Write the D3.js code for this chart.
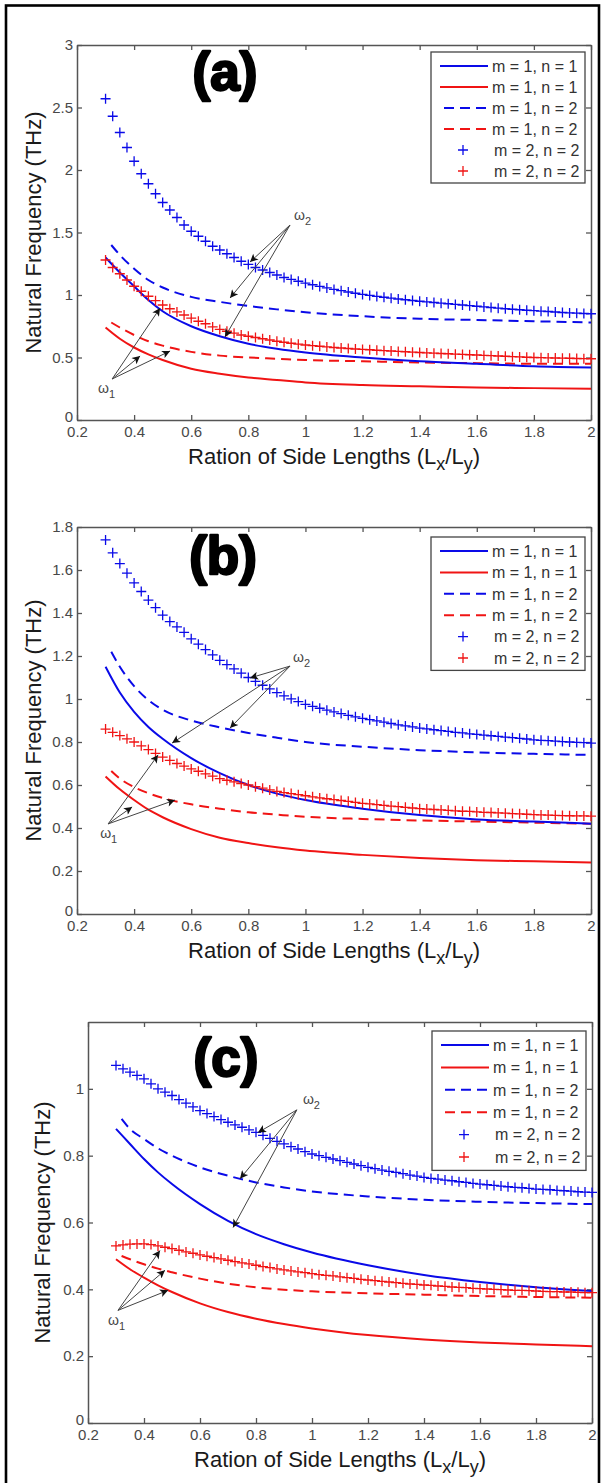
<!DOCTYPE html>
<html>
<head>
<meta charset="utf-8">
<script src="https://d3js.org/d3.v7.min.js"></script>
<style>
body { margin: 0; background: #fff; }
svg { display: block; }
</style>
</head>
<body>
<script>
var xTicks = [0.2, 0.4, 0.6, 0.8, 1, 1.2, 1.4, 1.6, 1.8, 2];
var yTicksA = [0, 0.5, 1, 1.5, 2, 2.5, 3];
var yTicksB = [0, 0.2, 0.4, 0.6, 0.8, 1, 1.2, 1.4, 1.6, 1.8];
var yTicksC = [0, 0.2, 0.4, 0.6, 0.8, 1];
var legendLabels = ["m = 1, n = 1", "m = 1, n = 1", "m = 1, n = 2", "m = 1, n = 2", "m = 2, n = 2", "m = 2, n = 2"];

var lineRatio = [0.3, 0.35, 0.4, 0.45, 0.5, 0.6, 0.7, 0.8, 0.9, 1, 1.2, 1.4, 1.6, 1.8, 2];
var dashRatio = [0.32, 0.35, 0.4, 0.45, 0.5, 0.6, 0.7, 0.8, 0.9, 1, 1.2, 1.4, 1.6, 1.8, 2];
var plusRatio = [0.3, 0.325, 0.35, 0.375, 0.4, 0.425, 0.45, 0.475, 0.5, 0.525, 0.55, 0.575, 0.6, 0.625, 0.65, 0.675, 0.7, 0.725, 0.75, 0.775, 0.8, 0.825, 0.85, 0.875, 0.9, 0.925, 0.95, 0.975, 1,
	1.025, 1.05, 1.075, 1.1, 1.125, 1.15, 1.175, 1.2, 1.225, 1.25, 1.275, 1.3, 1.325, 1.35, 1.375, 1.4, 1.425, 1.45, 1.475, 1.5, 1.525, 1.55, 1.575, 1.6, 1.625, 1.65, 1.675, 1.7, 1.725, 1.75, 1.775, 1.8, 1.825, 1.85, 1.875, 1.9, 1.925, 1.95, 1.975, 2];

// (a)
var solidBlueA = [1.30, 1.18, 1.07, 0.96, 0.87, 0.75, 0.67, 0.61, 0.57, 0.54, 0.50, 0.47, 0.45, 0.43, 0.42];
var solidRedA = [0.74, 0.65, 0.58, 0.525, 0.48, 0.41, 0.37, 0.34, 0.32, 0.30, 0.28, 0.27, 0.26, 0.255, 0.25];
var dashBlueA = [1.40, 1.32, 1.21, 1.12, 1.06, 0.985, 0.945, 0.912, 0.885, 0.862, 0.83, 0.81, 0.80, 0.79, 0.78];
var dashRedA = [0.78, 0.74, 0.68, 0.63, 0.595, 0.545, 0.515, 0.50, 0.49, 0.48, 0.47, 0.46, 0.455, 0.45, 0.45];
var plusBlueA = [2.57, 2.43, 2.30, 2.18, 2.07, 1.97, 1.89, 1.81, 1.74, 1.68, 1.62, 1.56, 1.51, 1.47, 1.43, 1.39, 1.36, 1.33, 1.30, 1.27, 1.245, 1.22, 1.20, 1.18, 1.16, 1.14, 1.125, 1.11, 1.095,
	1.082, 1.069, 1.057, 1.045, 1.035, 1.024, 1.014, 1.005, 0.997, 0.989, 0.982, 0.975, 0.968, 0.962, 0.956, 0.95, 0.945, 0.94, 0.935, 0.93,
	0.925, 0.92, 0.915, 0.91, 0.905, 0.90, 0.895, 0.89, 0.886, 0.882, 0.878, 0.875, 0.871, 0.868, 0.864, 0.86, 0.857, 0.855, 0.852, 0.85];
var plusRedA = [1.28, 1.22, 1.17, 1.12, 1.07, 1.03, 0.99, 0.955, 0.92, 0.89, 0.865, 0.84, 0.815, 0.79, 0.77, 0.745, 0.725, 0.71, 0.695, 0.68, 0.67, 0.66, 0.65, 0.64, 0.63, 0.622, 0.614, 0.607, 0.60,
	0.595, 0.59, 0.585, 0.58, 0.576, 0.572, 0.568, 0.565, 0.562, 0.558, 0.555, 0.552, 0.549, 0.546, 0.543, 0.54, 0.537, 0.535, 0.532, 0.53,
	0.527, 0.525, 0.522, 0.52, 0.517, 0.515, 0.512, 0.51, 0.507, 0.505, 0.502, 0.50, 0.499, 0.497, 0.496, 0.495, 0.494, 0.492, 0.491, 0.49];

// (b)
var solidBlueB = [1.15, 1.03, 0.94, 0.87, 0.815, 0.725, 0.655, 0.60, 0.56, 0.53, 0.49, 0.46, 0.44, 0.43, 0.42];
var solidRedB = [0.64, 0.58, 0.53, 0.485, 0.45, 0.395, 0.355, 0.33, 0.31, 0.295, 0.275, 0.26, 0.25, 0.245, 0.24];
var dashBlueB = [1.22, 1.15, 1.06, 0.995, 0.95, 0.90, 0.868, 0.842, 0.82, 0.80, 0.778, 0.762, 0.752, 0.745, 0.74];
var dashRedB = [0.665, 0.63, 0.59, 0.562, 0.54, 0.51, 0.49, 0.473, 0.462, 0.452, 0.442, 0.435, 0.43, 0.425, 0.42];
var plusBlueB = [1.74, 1.68, 1.63, 1.585, 1.54, 1.50, 1.46, 1.425, 1.39, 1.36, 1.335, 1.31, 1.28, 1.255, 1.23, 1.205, 1.18, 1.16, 1.14, 1.12, 1.10, 1.082, 1.064, 1.047, 1.03, 1.015, 1.001, 0.988, 0.975,
	0.966, 0.957, 0.948, 0.94, 0.932, 0.924, 0.917, 0.91, 0.904, 0.898, 0.892, 0.886, 0.88, 0.875, 0.87, 0.865, 0.861, 0.857, 0.853, 0.849,
	0.845, 0.842, 0.838, 0.835, 0.832, 0.829, 0.826, 0.823, 0.82, 0.817, 0.814, 0.81, 0.808, 0.806, 0.804, 0.802, 0.80, 0.798, 0.797, 0.795];
var plusRedB = [0.86, 0.845, 0.83, 0.815, 0.80, 0.782, 0.765, 0.747, 0.73, 0.715, 0.70, 0.688, 0.675, 0.664, 0.652, 0.641, 0.63, 0.622, 0.615, 0.607, 0.60, 0.592, 0.585, 0.577, 0.57, 0.565, 0.56, 0.555, 0.55,
	0.545, 0.54, 0.536, 0.532, 0.528, 0.524, 0.519, 0.515, 0.512, 0.509, 0.505, 0.502, 0.499, 0.496, 0.493, 0.49, 0.488, 0.486, 0.484, 0.482,
	0.48, 0.478, 0.477, 0.475, 0.473, 0.472, 0.47, 0.469, 0.467, 0.466, 0.464, 0.462, 0.461, 0.46, 0.459, 0.458, 0.457, 0.456, 0.456, 0.455];

// (c)
var solidBlueC = [0.88, 0.835, 0.79, 0.75, 0.715, 0.655, 0.605, 0.565, 0.535, 0.51, 0.472, 0.443, 0.422, 0.406, 0.395];
var solidRedC = [0.49, 0.46, 0.435, 0.412, 0.392, 0.358, 0.332, 0.312, 0.296, 0.283, 0.263, 0.25, 0.241, 0.235, 0.23];
var dashBlueC = [0.91, 0.88, 0.85, 0.822, 0.80, 0.765, 0.74, 0.72, 0.705, 0.693, 0.678, 0.668, 0.662, 0.658, 0.655];
var dashRedC = [0.50, 0.49, 0.475, 0.462, 0.451, 0.432, 0.417, 0.406, 0.399, 0.394, 0.388, 0.384, 0.38, 0.377, 0.375];
var plusBlueC = [1.07, 1.06, 1.05, 1.04, 1.03, 1.015, 1.00, 0.99, 0.98, 0.968, 0.957, 0.946, 0.935, 0.926, 0.917, 0.908, 0.90, 0.892, 0.885, 0.877, 0.87, 0.861, 0.852, 0.843, 0.835, 0.827, 0.82, 0.812, 0.805,
	0.80, 0.795, 0.79, 0.785, 0.78, 0.775, 0.77, 0.765, 0.761, 0.757, 0.753, 0.75, 0.746, 0.742, 0.739, 0.735, 0.732, 0.73, 0.727, 0.725,
	0.722, 0.72, 0.717, 0.715, 0.713, 0.711, 0.709, 0.707, 0.705, 0.704, 0.702, 0.70, 0.699, 0.698, 0.696, 0.695, 0.694, 0.692, 0.691, 0.69];
var plusRedC = [0.53, 0.533, 0.535, 0.536, 0.536, 0.534, 0.53, 0.526, 0.522, 0.517, 0.512, 0.508, 0.503, 0.499, 0.495, 0.491, 0.487, 0.483, 0.479, 0.476, 0.472, 0.468, 0.465, 0.461, 0.458, 0.455, 0.452, 0.45, 0.447,
	0.444, 0.442, 0.44, 0.437, 0.435, 0.433, 0.43, 0.428, 0.426, 0.424, 0.422, 0.42, 0.418, 0.416, 0.415, 0.413, 0.412, 0.41, 0.409, 0.407,
	0.406, 0.405, 0.403, 0.402, 0.401, 0.40, 0.399, 0.398, 0.397, 0.397, 0.396, 0.395, 0.394, 0.393, 0.393, 0.392, 0.392, 0.391, 0.39, 0.39];

// annotation arrows: [origin, tips...] in data units
var omega2A = [[0.946, 1.56], [0.806, 1.264], [0.736, 0.976], [0.718, 0.664]];
var omega1A = [[0.323, 0.328], [0.491, 0.896], [0.421, 0.512], [0.526, 0.552]];
var omega2B = [[0.946, 1.153], [0.806, 1.098], [0.736, 0.865], [0.533, 0.795]];
var omega1B = [[0.309, 0.419], [0.484, 0.740], [0.393, 0.498], [0.543, 0.530]];
var omega2C = [[0.946, 0.937], [0.807, 0.869], [0.743, 0.731], [0.718, 0.585]];
var omega1C = [[0.307, 0.337], [0.457, 0.516], [0.475, 0.457], [0.486, 0.397]];

var BLUE = "#0a0ae8", RED = "#f01414";
var AXIS = "#555", TICKTEXT = "#484848";
var FONT = "'Liberation Sans', Arial, sans-serif";

var svg = d3.select("body").append("svg")
	.attr("width", 601)
	.attr("height", 1483);

svg.append("defs").append("marker")
	.attr("id", "head")
	.attr("viewBox", "0 0 10 10")
	.attr("refX", 10)
	.attr("refY", 5)
	.attr("markerWidth", 10)
	.attr("markerHeight", 8)
	.attr("markerUnits", "userSpaceOnUse")
	.attr("orient", "auto")
	.append("path")
	.attr("d", "M0,0L10,5L0,10L2.5,5z")
	.attr("fill", "#111");

svg.append("rect")
	.attr("x", 6).attr("y", 5.5)
	.attr("width", 593).attr("height", 1495)
	.attr("fill", "none")
	.attr("stroke", "#000")
	.attr("stroke-width", 2.6);

var panels = [{
	name: "(a)", left: 77, right: 591, top: 45, bottom: 420, yMax: 3, yTicks: yTicksA,
	solidBlue: solidBlueA, solidRed: solidRedA, dashBlue: dashBlueA, dashRed: dashRedA, plusBlue: plusBlueA, plusRed: plusRedA,
	omega2: omega2A, omega1: omega1A, labelX: 225, labelY: 90,
	w2dx: 4, w2dy: -5, w1dx: -14, w1dy: 14, legTop: 7, legRow: 21, titleX: 33
}, {
	name: "(b)", left: 77, right: 591, top: 527, bottom: 914, yMax: 1.8, yTicks: yTicksB,
	solidBlue: solidBlueB, solidRed: solidRedB, dashBlue: dashBlueB, dashRed: dashRedB, plusBlue: plusBlueB, plusRed: plusRedB,
	omega2: omega2B, omega1: omega1B, labelX: 223, labelY: 574,
	w2dx: 3, w2dy: -4, w1dx: -8, w1dy: 14, legTop: 10, legRow: 21.4, titleX: 33
}, {
	name: "(c)", left: 88, right: 592, top: 1022, bottom: 1423, yMax: 1.2, yTicks: yTicksC,
	solidBlue: solidBlueC, solidRed: solidRedC, dashBlue: dashBlueC, dashRed: dashRedC, plusBlue: plusBlueC, plusRed: plusRedC,
	omega2: omega2C, omega1: omega1C, labelX: 226, labelY: 1076,
	w2dx: 6, w2dy: -6, w1dx: -10, w1dy: 15, legTop: 9, legRow: 22.4, titleX: 42
}];

panels.forEach(function(p) {
	drawPanel(p);
});

function drawPanel(p) {
	var x = d3.scaleLinear().domain([0.2, 2]).range([p.left, p.right]);
	var y = d3.scaleLinear().domain([0, p.yMax]).range([p.bottom, p.top]);
	var g = svg.append("g");

	var bottomAxis = g.append("g")
		.attr("transform", "translate(0," + p.bottom + ")")
		.call(d3.axisBottom(x).tickValues(xTicks).tickSizeInner(-5).tickSizeOuter(0).tickPadding(6).tickFormat(d3.format("")));
	var topAxis = g.append("g")
		.attr("transform", "translate(0," + p.top + ")")
		.call(d3.axisTop(x).tickValues(xTicks).tickSizeInner(-5).tickSizeOuter(0).tickFormat(""));
	var leftAxis = g.append("g")
		.attr("transform", "translate(" + p.left + ",0)")
		.call(d3.axisLeft(y).tickValues(p.yTicks).tickSizeInner(-5).tickSizeOuter(0).tickPadding(4).tickFormat(d3.format("")));
	var rightAxis = g.append("g")
		.attr("transform", "translate(" + p.right + ",0)")
		.call(d3.axisRight(y).tickValues(p.yTicks).tickSizeInner(-5).tickSizeOuter(0).tickFormat(""));

	[bottomAxis, topAxis, leftAxis, rightAxis].forEach(function(a) {
		a.select(".domain").attr("stroke", AXIS).attr("stroke-width", 1.5);
		a.selectAll(".tick line").attr("stroke", AXIS).attr("stroke-width", 1.3);
		a.selectAll(".tick text")
			.attr("fill", TICKTEXT)
			.style("font-family", FONT)
			.style("font-size", "15px");
	});
	// the zero label sits just above the first x label, as in the original
	leftAxis.selectAll(".tick text")
		.filter(function(d) { return d === 0; })
		.attr("dy", "0.1em");

	var line = d3.line()
		.x(function(d) { return x(d[0]); })
		.y(function(d) { return y(d[1]); })
		.curve(d3.curveMonotoneX);

	var series = [
		{ ratio: dashRatio, values: p.dashBlue, color: BLUE, dash: "10,6" },
		{ ratio: dashRatio, values: p.dashRed, color: RED, dash: "10,6" },
		{ ratio: lineRatio, values: p.solidRed, color: RED, dash: null },
		{ ratio: lineRatio, values: p.solidBlue, color: BLUE, dash: null }
	];
	series.forEach(function(s) {
		g.append("path")
			.datum(d3.zip(s.ratio, s.values))
			.attr("d", line)
			.attr("fill", "none")
			.attr("stroke", s.color)
			.attr("stroke-width", 2)
			.attr("stroke-dasharray", s.dash);
	});

	[{ values: p.plusBlue, color: BLUE }, { values: p.plusRed, color: RED }].forEach(function(s) {
		g.append("g").selectAll("path")
			.data(d3.zip(plusRatio, s.values))
			.enter()
			.append("path")
			.attr("d", "M-5,0H5M0,-5V5")
			.attr("transform", function(d) {
				return "translate(" + x(d[0]) + "," + y(d[1]) + ")";
			})
			.attr("fill", "none")
			.attr("stroke", s.color)
			.attr("stroke-width", 1.3);
	});

	drawArrows(g, x, y, p.omega2, "2", p.w2dx, p.w2dy);
	drawArrows(g, x, y, p.omega1, "1", p.w1dx, p.w1dy);

	drawLegend(g, p);

	g.append("text")
		.attr("x", p.labelX)
		.attr("y", p.labelY)
		.attr("text-anchor", "middle")
		.attr("fill", "#000")
		.attr("stroke", "#000")
		.attr("stroke-width", 2.4)
		.attr("stroke-linejoin", "round")
		.style("font-family", FONT)
		.style("font-weight", "bold")
		.style("font-size", "53px")
		.text(p.name);

	var xt = g.append("text")
		.attr("x", (p.left + p.right) / 2)
		.attr("y", p.bottom + 44)
		.attr("text-anchor", "middle")
		.attr("fill", "#1a1a1a")
		.style("font-family", FONT)
		.style("font-size", "22px");
	xt.append("tspan").text("Ration of Side Lengths (L");
	xt.append("tspan").attr("dy", 6).style("font-size", "18px").text("x");
	xt.append("tspan").attr("dy", -6).text("/L");
	xt.append("tspan").attr("dy", 6).style("font-size", "18px").text("y");
	xt.append("tspan").attr("dy", -6).text(")");

	g.append("text")
		.attr("transform", "translate(" + p.titleX + "," + ((p.top + p.bottom) / 2) + ") rotate(-90)")
		.attr("text-anchor", "middle")
		.attr("dy", "0.35em")
		.attr("fill", "#1a1a1a")
		.style("font-family", FONT)
		.style("font-size", "22px")
		.text("Natural Frequency (THz)");
}

function drawArrows(g, x, y, pts, sub, dx, dy) {
	var origin = pts[0];
	g.append("g").selectAll("line")
		.data(pts.slice(1))
		.enter()
		.append("line")
		.attr("x1", x(origin[0]))
		.attr("y1", y(origin[1]))
		.attr("x2", function(d) { return x(d[0]); })
		.attr("y2", function(d) { return y(d[1]); })
		.attr("stroke", "#444")
		.attr("stroke-width", 1)
		.attr("marker-end", "url(#head)");
	var t = g.append("text")
		.attr("x", x(origin[0]) + dx)
		.attr("y", y(origin[1]) + dy)
		.attr("fill", "#444")
		.style("font-family", FONT)
		.style("font-size", "14px");
	t.append("tspan").text("\u03c9");
	t.append("tspan").attr("dy", 5).style("font-size", "11px").text(sub);
}

function drawLegend(g, p) {
	var w = 154, right = p.right - 6, left = right - w, top = p.top + p.legTop;
	var h = p.legRow * 6 + 5;
	var styles = [
		{ color: BLUE, type: "solid" },
		{ color: RED, type: "solid" },
		{ color: BLUE, type: "dash" },
		{ color: RED, type: "dash" },
		{ color: BLUE, type: "plus" },
		{ color: RED, type: "plus" }
	];
	var leg = g.append("g");
	leg.append("rect")
		.attr("x", left).attr("y", top)
		.attr("width", w).attr("height", h)
		.attr("fill", "#fff")
		.attr("stroke", "#444")
		.attr("stroke-width", 1.3);
	var rows = leg.selectAll("g.row")
		.data(styles)
		.enter()
		.append("g")
		.attr("class", "row")
		.attr("transform", function(d, i) {
			return "translate(" + left + "," + (top + 14 + i * p.legRow) + ")";
		});
	rows.filter(function(d) { return d.type !== "plus"; })
		.append("line")
		.attr("x1", function(d) { return d.type === "dash" ? 13 : 9; })
		.attr("x2", 57)
		.attr("y1", 0).attr("y2", 0)
		.attr("stroke", function(d) { return d.color; })
		.attr("stroke-width", 2)
		.attr("stroke-dasharray", function(d) { return d.type === "dash" ? "10,6" : null; });
	rows.filter(function(d) { return d.type === "plus"; })
		.append("path")
		.attr("d", "M27,0H37M32,-5V5")
		.attr("stroke", function(d) { return d.color; })
		.attr("stroke-width", 1.3);
	rows.append("text")
		.attr("x", function(d) { return d.type === "plus" ? 63 : 61; })
		.attr("dy", "0.36em")
		.attr("fill", "#333")
		.style("font-family", FONT)
		.style("font-size", "16px")
		.text(function(d, i) { return legendLabels[i]; });
}
</script>
</body>
</html>
